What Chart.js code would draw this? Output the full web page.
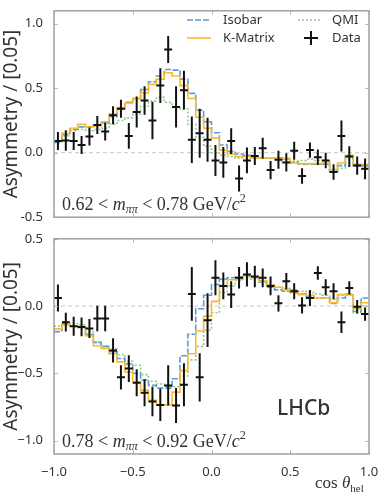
<!DOCTYPE html>
<html>
<head>
<meta charset="utf-8">
<script src="https://cdn.jsdelivr.net/npm/chart.js@4"></script>
<style>
  html, body { margin: 0; padding: 0; background: #fff; }
  #wrap { position: relative; width: 382px; height: 495px; }
  canvas { position: absolute; left: 0; }
</style>
</head>
<body>
<div id="wrap">
  <canvas id="topChart" width="382" height="228" style="top:0"></canvas>
  <canvas id="botChart" width="382" height="267" style="top:228px"></canvas>
</div>
<script>
// ===== DATA =====
const binWidth = 0.05
const xTicks = [-1.0, -0.5, 0.0, 0.5, 1.0]

// 0.62 < m < 0.78
const dataTop    = [0.09,0.095,0.09,0.06,0.125,0.215,0.165,0.29,0.34,0.13,0.315,0.405,0.25,0.52,0.80,0.355,0.485,0.10,0.15,0.10,-0.06,-0.075,0.09,-0.2,-0.06,-0.025,0.035,-0.135,-0.055,-0.075,0.015,-0.18,0.02,-0.035,-0.06,-0.15,0.13,-0.03,-0.1,-0.125]
const errTop     = [0.07,0.08,0.07,0.07,0.07,0.07,0.07,0.07,0.07,0.1,0.12,0.11,0.145,0.135,0.105,0.16,0.15,0.18,0.19,0.17,0.12,0.12,0.1,0.1,0.1,0.07,0.08,0.07,0.07,0.07,0.07,0.06,0.06,0.06,0.06,0.06,0.12,0.08,0.07,0.08]
const isobarTop  = [0.08,0.14,0.18,0.20,0.20,0.21,0.23,0.28,0.34,0.39,0.42,0.49,0.55,0.595,0.645,0.64,0.57,0.46,0.33,0.24,0.155,0.06,0.01,-0.01,-0.02,-0.04,-0.04,-0.04,-0.04,-0.045,-0.075,-0.09,-0.09,-0.09,-0.09,-0.15,-0.1,-0.03,-0.1,-0.1]
const kmatrixTop = [0.09,0.15,0.19,0.22,0.20,0.21,0.24,0.30,0.35,0.385,0.42,0.465,0.53,0.57,0.62,0.595,0.52,0.42,0.275,0.19,0.115,0.02,-0.01,-0.03,-0.03,-0.04,-0.04,-0.04,-0.045,-0.05,-0.08,-0.085,-0.085,-0.085,-0.08,-0.13,-0.08,-0.02,-0.09,-0.09]
const qmiTop     = [0.08,0.13,0.17,0.18,0.17,0.18,0.19,0.22,0.25,0.27,0.30,0.36,0.40,0.43,0.39,0.35,0.34,0.22,0.12,0.05,0.0,-0.02,-0.03,-0.04,-0.04,-0.04,-0.04,-0.04,-0.05,-0.07,-0.065,-0.06,-0.05,-0.06,-0.06,-0.14,-0.12,-0.05,-0.1,-0.1]

// 0.78 < m < 0.92
const dataBot    = [0.06,-0.12,-0.15,-0.155,-0.167,-0.093,-0.093,-0.33,-0.53,-0.465,-0.57,-0.645,-0.71,-0.735,-0.59,-0.74,-0.585,0.09,-0.53,-0.105,0.21,0.15,0.085,0.21,0.235,0.22,0.21,0.15,0.02,0.185,0.11,0.005,0.06,0.245,0.14,0.11,-0.12,0.135,-0.005,-0.06]
const errBot     = [0.1,0.07,0.07,0.07,0.07,0.095,0.095,0.09,0.09,0.1,0.1,0.1,0.11,0.12,0.15,0.13,0.16,0.2,0.18,0.2,0.13,0.1,0.1,0.08,0.09,0.08,0.07,0.07,0.06,0.06,0.06,0.06,0.06,0.05,0.06,0.06,0.08,0.05,0.05,0.05]
const isobarBot  = [-0.19,-0.13,-0.15,-0.16,-0.21,-0.27,-0.30,-0.34,-0.39,-0.43,-0.50,-0.55,-0.59,-0.61,-0.61,-0.54,-0.37,-0.21,-0.02,0.08,0.16,0.20,0.21,0.215,0.22,0.21,0.18,0.14,0.12,0.11,0.10,0.09,0.07,0.06,0.06,0.02,0.06,0.09,-0.04,0.06]
const kmatrixBot = [-0.17,-0.14,-0.15,-0.16,-0.22,-0.295,-0.315,-0.355,-0.415,-0.49,-0.565,-0.625,-0.70,-0.735,-0.735,-0.64,-0.48,-0.355,-0.185,-0.075,0.035,0.15,0.195,0.20,0.225,0.215,0.185,0.155,0.14,0.12,0.105,0.085,0.08,0.06,0.06,0.025,0.085,0.085,-0.02,0.025]
const qmiBot     = [-0.15,-0.12,-0.13,-0.14,-0.19,-0.27,-0.30,-0.32,-0.36,-0.41,-0.44,-0.51,-0.56,-0.58,-0.60,-0.60,-0.52,-0.40,-0.30,-0.18,-0.05,0.10,0.15,0.19,0.20,0.20,0.19,0.16,0.14,0.13,0.12,0.11,0.10,0.09,0.08,0.05,0.08,0.08,-0.05,0.0]

const COL = { isobar: '#5b9bd8', kmatrix: '#fbb92c', qmi: '#92c98c', data: '#111', text: '#333', frame: '#a0a0a0' }

// bin edges from -1 to 1
const edges = dataTop.map((_, i) => -1 + i * binWidth)

function stepPts(vals) {
  const pts = vals.map((v, i) => ({ x: edges[i], y: v }))
  pts.push({ x: 1, y: vals[vals.length - 1] })
  return pts
}
function centrePts(vals) {
  return vals.map((v, i) => ({ x: edges[i] + binWidth / 2, y: v }))
}

// ===== PLUGINS =====
const panelDeco = {
  id: 'panelDeco',
  beforeDatasetsDraw(chart) {
    const { ctx, chartArea: a, scales: { y } } = chart
    const y0 = y.getPixelForValue(0)
    ctx.save()
    ctx.strokeStyle = '#c8c8c8'
    ctx.lineWidth = 1
    ctx.setLineDash([4, 3])
    ctx.beginPath(); ctx.moveTo(a.left, y0); ctx.lineTo(a.right, y0); ctx.stroke()
    ctx.restore()
  },
  afterDatasetsDraw(chart) {
    const { ctx, chartArea: a, scales: { x, y } } = chart
    chart.data.datasets.forEach(ds => {
      if (!ds.yErr) return
      ctx.save()
      ctx.beginPath(); ctx.rect(a.left, a.top, a.width, a.height); ctx.clip()
      ctx.strokeStyle = COL.data
      ctx.lineWidth = 2
      ds.data.forEach((p, i) => {
        const px = x.getPixelForValue(p.x), py = y.getPixelForValue(p.y)
        ctx.beginPath()
        ctx.moveTo(px, y.getPixelForValue(p.y - ds.yErr[i]))
        ctx.lineTo(px, y.getPixelForValue(p.y + ds.yErr[i]))
        ctx.moveTo(x.getPixelForValue(p.x - binWidth / 2), py)
        ctx.lineTo(x.getPixelForValue(p.x + binWidth / 2), py)
        ctx.stroke()
      })
      ctx.restore()
    })
  },
  afterDraw(chart, args, opts) {
    const { ctx, chartArea: a, scales: { x, y } } = chart
    ctx.save()
    // inward ticks
    ctx.strokeStyle = '#bbb'
    ctx.lineWidth = 1
    ctx.beginPath()
    xTicks.forEach(v => {
      const px = Math.round(x.getPixelForValue(v)) + 0.5
      ctx.moveTo(px, a.bottom); ctx.lineTo(px, a.bottom - 4)
      ctx.moveTo(px, a.top); ctx.lineTo(px, a.top + 4)
    })
    y.ticks.forEach(t => {
      const py = Math.round(y.getPixelForValue(t.value)) + 0.5
      ctx.moveTo(a.left, py); ctx.lineTo(a.left + 4, py)
      ctx.moveTo(a.right, py); ctx.lineTo(a.right - 4, py)
    })
    ctx.stroke()
    // frame
    ctx.strokeStyle = COL.frame
    ctx.lineWidth = 1.5
    ctx.strokeRect(a.left, a.top, a.width, a.height)

    // mass range label
    const serif = "'Liberation Serif', serif"
    drawRich(ctx, a.left + 8, a.bottom - 7, [
      { t: opts.lo + ' < ', f: `18px ${serif}` },
      { t: 'm', f: `italic 18px ${serif}` },
      { t: 'ππ', f: `italic 12px ${serif}`, dy: 3 },
      { t: ' < ' + opts.hi + ' GeV/', f: `18px ${serif}` },
      { t: 'c', f: `italic 18px ${serif}` },
      { t: '2', f: `12px ${serif}`, dy: -8 },
    ])

    if (opts.legend) drawLegend(ctx, chart)
    if (opts.lhcb) {
      ctx.fillStyle = COL.text
      ctx.font = "500 21px 'Noto Sans', sans-serif"
      ctx.textBaseline = 'alphabetic'
      ctx.fillText('LHCb', a.left + 223, a.top + 176)
    }
    if (opts.xTitle) {
      drawRich(ctx, a.right - 54, a.bottom + 34, [
        { t: 'cos ', f: `17px ${serif}` },
        { t: 'θ', f: `italic 17px ${serif}` },
        { t: 'hel', f: `11px ${serif}`, dy: 4 },
      ])
    }
    ctx.restore()
  }
}

function drawRich(ctx, x, y, segs) {
  ctx.fillStyle = COL.text
  ctx.textBaseline = 'alphabetic'
  ctx.textAlign = 'left'
  segs.forEach(s => {
    ctx.font = s.f
    ctx.fillText(s.t, x, y + (s.dy || 0))
    x += ctx.measureText(s.t).width
  })
}

function drawLegend(ctx, chart) {
  const items = [
    { label: 'Isobar',   ds: 0, lx: 187, ly: 20, tx: 223 },
    { label: 'QMI',      ds: 2, lx: 298, ly: 20, tx: 332 },
    { label: 'K-Matrix', ds: 1, lx: 187, ly: 38, tx: 223 },
    { label: 'Data',     ds: 3, lx: 298, ly: 38, tx: 332 },
  ]
  ctx.font = "13px 'Noto Sans', sans-serif"
  ctx.textBaseline = 'middle'
  items.forEach(it => {
    const d = chart.data.datasets[it.ds]
    ctx.save()
    if (d.yErr) {
      ctx.strokeStyle = COL.data; ctx.lineWidth = 2
      ctx.beginPath()
      ctx.moveTo(it.lx + 6, it.ly); ctx.lineTo(it.lx + 20, it.ly)
      ctx.moveTo(it.lx + 13, it.ly - 7); ctx.lineTo(it.lx + 13, it.ly + 7)
      ctx.stroke()
    } else {
      ctx.strokeStyle = d.borderColor; ctx.lineWidth = d.borderWidth
      ctx.setLineDash(d.borderDash || [])
      ctx.beginPath(); ctx.moveTo(it.lx, it.ly); ctx.lineTo(it.lx + 24, it.ly); ctx.stroke()
    }
    ctx.restore()
    ctx.fillStyle = COL.text
    ctx.fillText(it.label, it.tx, it.ly)
  })
}

// ===== CHARTS =====
function makeDatasets(iso, km, qmi, data, err) {
  const line = (label, vals, color, dash, order) => ({
    type: 'line', label, data: stepPts(vals), borderColor: color, borderWidth: 1.6,
    borderDash: dash, stepped: true, pointRadius: 0, fill: false, order
  })
  return [
    line('Isobar', iso, COL.isobar, [6, 2], 3),
    line('K-Matrix', km, COL.kmatrix, [], 2),
    line('QMI', qmi, COL.qmi, [2, 2], 4),
    { type: 'scatter', label: 'Data', data: centrePts(data), yErr: err, pointRadius: 0, order: 1 },
  ]
}

function makeChart(id, cfg) {
  const fmt = v => (v < 0 ? cfg.minus + Math.abs(v).toFixed(1) : v.toFixed(1))
  return new Chart(document.getElementById(id), {
    type: 'line',
    data: { datasets: makeDatasets(...cfg.series) },
    options: {
      responsive: false, animation: false,
      layout: { padding: { top: cfg.padTop, right: 13, left: 0, bottom: 0 } },
      plugins: { legend: { display: false }, tooltip: { enabled: false }, panelDeco: cfg.deco },
      scales: {
        x: {
          type: 'linear', min: -1, max: 1,
          grid: { display: false }, border: { display: false },
          ticks: {
            display: cfg.xLabels, stepSize: 0.5, includeBounds: false, padding: 2,
            color: COL.text, font: { family: 'Noto Sans', size: 13 },
            callback: v => (v < 0 ? '\u2212' + Math.abs(v).toFixed(1) : v.toFixed(1))
          },
          afterFit: s => { s.height = cfg.xHeight }
        },
        y: {
          min: cfg.yMin, max: cfg.yMax,
          grid: { display: false }, border: { display: false },
          ticks: {
            stepSize: 0.5, includeBounds: false, padding: 3,
            color: COL.text, font: { family: 'Noto Sans', size: 13 },
            callback: fmt
          },
          title: {
            display: true, text: 'Asymmetry / [0.05]', color: COL.text,
            font: { family: 'Noto Sans', size: 19 }, padding: { top: 0, bottom: 0 }
          },
          afterFit: s => { s.width = 54 }
        }
      }
    },
    plugins: [panelDeco]
  })
}

makeChart('topChart', {
  series: [isobarTop, kmatrixTop, qmiTop, dataTop, errTop],
  yMin: -0.5, yMax: 1.1, padTop: 3, xHeight: 8, xLabels: false, minus: '-',
  deco: { lo: '0.62', hi: '0.78', legend: true }
})
makeChart('botChart', {
  series: [isobarBot, kmatrixBot, qmiBot, dataBot, errBot],
  yMin: -1.1, yMax: 0.5, padTop: 10, xHeight: 41, xLabels: true, minus: '\u2212',
  deco: { lo: '0.78', hi: '0.92', lhcb: true, xTitle: true }
})
</script>
</body>
</html>
